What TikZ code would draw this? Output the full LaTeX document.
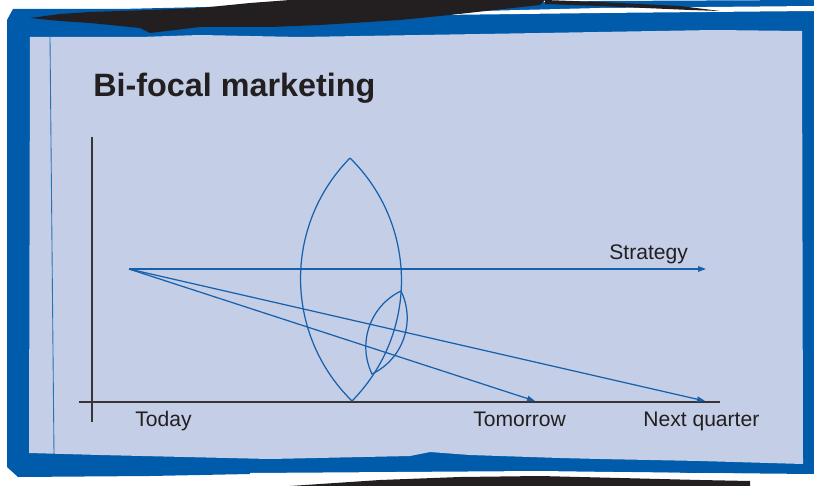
\documentclass[tikz,border=0pt]{standalone}
\usepackage{fontspec}
\setmainfont{Liberation Sans}
\usetikzlibrary{arrows.meta}
\definecolor{frameblue}{RGB}{0,91,170}
\definecolor{panel}{RGB}{196,206,231}
\definecolor{lineblue}{RGB}{22,96,172}
\definecolor{ink}{RGB}{35,31,32}

\begin{document}
\begin{tikzpicture}[x=0.02cm,y=-0.02cm,>={Triangle[length=1.6mm,width=1.1mm]},
    ray/.style={draw=lineblue,line width=0.7pt},
    lens/.style={draw=lineblue,line width=0.7pt},
    axis/.style={draw=ink!90,line width=0.75pt},
    lbl/.style={anchor=base west,text=ink,inner sep=0pt,font=\fontsize{12}{14}\selectfont},
    titlebox/.style={anchor=base west,text=ink,inner sep=0pt,font=\fontsize{18.4}{22}\selectfont\bfseries}]
  \useasboundingbox (0,0) rectangle (814,486);
  % frame
  \fill[frameblue] (7,20) -- (13,9) -- (120,9) -- (250,6) -- (450,4) -- (600,1) -- (814,0)
    -- (814,474) -- (600,472) -- (300,473) -- (150,476) -- (18,477) -- (7,467) -- cycle;
  \fill[white] (440,12) -- (600,8) -- (814,6) -- (814,11) -- (600,13) -- (440,15) -- cycle;
  \fill[ink] (30,18) -- (60,14) -- (90,12) -- (150,10) -- (200,8) -- (250,3) -- (290,0) -- (545,0)
    -- (540,5) -- (450,15) -- (400,20) -- (320,25) -- (270,27) -- (200,27) -- (150,33) -- (140,28)
    -- (90,23) -- (60,21) -- cycle;
  \fill[ink] (545,0) -- (600,2) -- (680,6) -- (720,11) -- (690,10) -- (600,6) -- (545,4) -- cycle;
  \fill[white] (250,473) -- (540,471) -- (760,474) -- (760,479) -- (540,476) -- (250,477) -- cycle;
  \fill[ink] (290,486) -- (380,480) -- (460,477) -- (540,476) -- (620,478) -- (700,480) -- (750,481)
    -- (750,486) -- cycle;
  \fill[panel] (30,37) -- (140,37) -- (200,35) -- (300,37) -- (420,35) -- (540,33) -- (714,30)
    -- (802,31) -- (803,464) -- (700,461) -- (600,459) -- (560,458) -- (470,455) -- (430,452)
    -- (410,456) -- (270,459) -- (100,455) -- (29,453) -- cycle;
  \draw[frameblue,line width=0.5pt,opacity=0.8] (50,37) -- (54,455);

  \node[titlebox] (title) at (93,97) {Bi-focal marketing};

  % axes
  \coordinate (ytop) at (92,137);
  \coordinate (ybot) at (92,422);
  \coordinate (xleft) at (79,402);
  \coordinate (xright) at (720,402);
  \draw[axis] (ytop) -- (ybot);
  \draw[axis] (xleft) -- (xright);

  % rays
  \coordinate (origin) at (129,269);
  \coordinate (strat) at (706,269);
  \coordinate (tomorrow) at (535,401);
  \coordinate (nextq) at (705,401);
  \draw[ray,->] (origin) -- (strat);
  \draw[ray,->] (origin) -- (tomorrow);
  \draw[ray,->] (origin) -- (nextq);

  % lenses
  \coordinate (lenstop) at (350,158);
  \coordinate (lensbot) at (352,401);
  \coordinate (smalltop) at (401,291);
  \coordinate (smallbot) at (372,374);
  \draw[lens] (lenstop) to[bend left=45] (lensbot) to[bend left=45] (lenstop);
  \draw[lens] (smalltop) to[bend left=45] (smallbot) to[bend left=45] (smalltop);

  \node[lbl] (strategy) at (609,259) {Strategy};
  \node[lbl] (today) at (135,426) {Today};
  \node[lbl] (tom) at (473,426) {Tomorrow};
  \node[lbl] (nq) at (643,426) {Next quarter};
\end{tikzpicture}
\end{document}
